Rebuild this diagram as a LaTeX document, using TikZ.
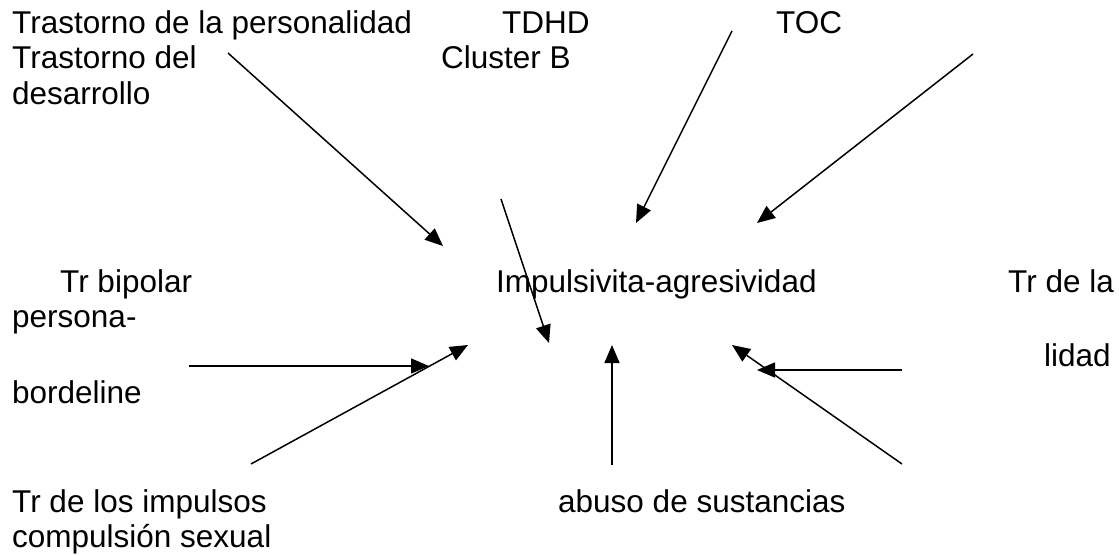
\documentclass[tikz,border=0pt]{standalone}
\usepackage{fontspec}
\setmainfont{Liberation Sans}
\usetikzlibrary{arrows.meta}
\tikzset{
  lbl/.style={anchor=base west,inner sep=0pt,font=\fontsize{31.5}{36}\selectfont},
  arr/.style={line width=1.5pt,-{Triangle[length=18pt,width=15pt]}}
}

\begin{document}
\begin{tikzpicture}[x=1pt,y=-1pt]

\useasboundingbox (0,0) rectangle (1119,555);

\node[lbl] (tpers) at (12,33) {Trastorno de la personalidad};
\node[lbl] (tdesa) at (12,68) {Trastorno del};
\node[lbl] (tdesb) at (12,104) {desarrollo};
\node[lbl] (tdhd) at (502,33) {TDHD};
\node[lbl] (clusterb) at (441,68) {Cluster B};
\node[lbl] (toc) at (776,33) {TOC};

\node[lbl] (bipolar) at (60,292) {Tr bipolar};
\node[lbl] (persona) at (12,327) {persona-};
\node[lbl] (bordeline) at (12,403) {bordeline};
\node[lbl] (impuls) at (496,292) {Impulsivita-agresividad};
\node[lbl] (trdela) at (1008,292) {Tr de la};
\node[lbl] (lidad) at (1044,366) {lidad};

\node[lbl] (impulsos) at (12,512) {Tr de los impulsos};
\node[lbl] (compulsion) at (12,547) {compulsión sexual};
\node[lbl] (abuso) at (558,512) {abuso de sustancias};



\coordinate (desfrom) at (228,53);
\coordinate (desto) at (443,246);
\coordinate (clusterfrom) at (501,199);
\coordinate (clusterto) at (549,343);
\coordinate (tdhdfrom) at (732,31);
\coordinate (tdhdto) at (636,223);
\coordinate (tocfrom) at (973,54);
\coordinate (tocto) at (757,223);

\coordinate (bipolarfrom) at (189,366);
\coordinate (bipolarto) at (429,366);
\coordinate (impulsosfrom) at (251,464);
\coordinate (impulsosto) at (468,345);
\coordinate (abusofrom) at (612,465);
\coordinate (abusoto) at (612,345);
\coordinate (lidadfrom) at (902,370);
\coordinate (lidadto) at (757,370);
\coordinate (lowfrom) at (902,464);
\coordinate (lowto) at (732,345);

\draw[arr] (desfrom) -- (desto);
\draw[arr] (clusterfrom) -- (clusterto);
\draw[arr] (tdhdfrom) -- (tdhdto);
\draw[arr] (tocfrom) -- (tocto);

\draw[arr] (bipolarfrom) -- (bipolarto);
\draw[arr] (impulsosfrom) -- (impulsosto);
\draw[arr] (abusofrom) -- (abusoto);
\draw[arr] (lidadfrom) -- (lidadto);
\draw[arr] (lowfrom) -- (lowto);

\end{tikzpicture}
\end{document}
